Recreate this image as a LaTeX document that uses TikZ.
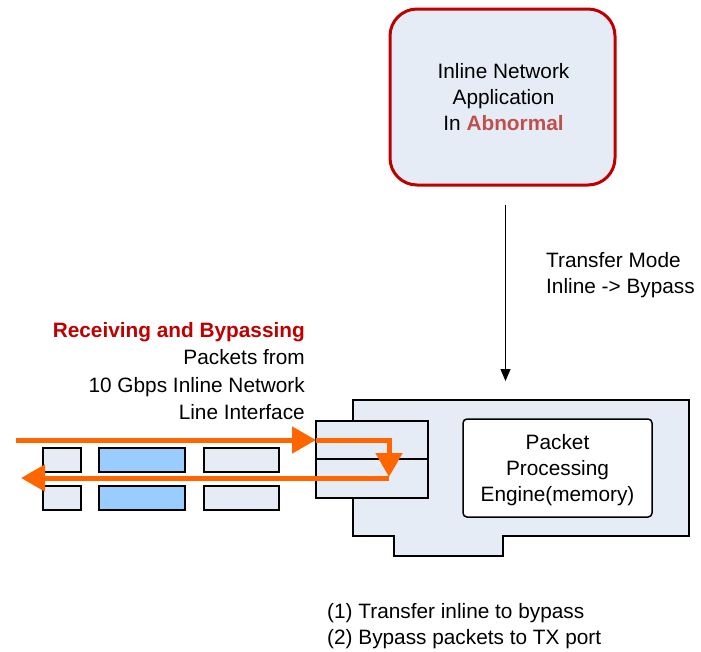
\documentclass[tikz,border=0pt]{standalone}
\usepackage{fontspec}
\setmainfont{Liberation Sans}
\usetikzlibrary{arrows.meta}
\definecolor{boxfill}{HTML}{E6ECF6}
\definecolor{pktblue}{HTML}{99CCFF}
\definecolor{darkred}{HTML}{C00000}
\definecolor{abred}{HTML}{C0504D}
\definecolor{flow}{HTML}{FF6600}
\tikzset{
  txt/.style={inner sep=0pt, font=\fontsize{20.8}{26}\selectfont},
  pkt/.style={draw=black, line width=1.5pt, fill=boxfill},
  pktb/.style={draw=black, line width=1.5pt, fill=pktblue},
  oline/.style={draw=flow, line width=5pt},
  otip/.style={-{Triangle[length=24pt,width=26pt]}},
}
\begin{document}
\begin{tikzpicture}[x=1pt,y=-1pt]
\useasboundingbox (0,0) rectangle (701,651);
% application box
\draw[draw=darkred, line width=3pt, fill=boxfill, rounded corners=27pt] (390,9) rectangle (615,185);
\node[txt, anchor=base] (app1) at (503.5,78) {Inline Network};
\node[txt, anchor=base] (app2) at (503.5,104) {Application};
\node[txt, anchor=base] (app3) at (503.5,130) {In \textbf{\color{abred}Abnormal}};
% transfer mode text
\node[txt, anchor=base west] (tm1) at (546,267) {Transfer Mode};
\node[txt, anchor=base west] (tm2) at (546,293) {Inline -> Bypass};
% vertical arrow
\coordinate (vtop) at (505.5,205);
\coordinate (vbot) at (505.5,381);
\draw[line width=1pt, -{Triangle[length=12pt,width=10pt]}] (vtop) -- (vbot);
% left text
\node[txt, anchor=base east, text=darkred, font=\fontsize{20.8}{26}\selectfont\bfseries] (rx1) at (305,337) {Receiving and Bypassing};
\node[txt, anchor=base east] (rx2) at (305,364) {Packets from};
\node[txt, anchor=base east] (rx3) at (305,392) {10 Gbps Inline Network};
\node[txt, anchor=base east] (rx4) at (305,419) {Line Interface};
% card
\draw[line width=2.5pt, fill=boxfill, line join=miter]
  (353,400) -- (689,400) -- (689,536) -- (503,536) -- (503,556) -- (394,556) -- (394,536) -- (353,536) -- cycle;
% port box
\draw[line width=1.5pt, fill=boxfill] (316,421) rectangle (428,498);
\draw[line width=1.5pt] (316,459) -- (428,459);
% engine
\draw[line width=1.5pt, fill=white, rounded corners=4pt] (463,419) rectangle (652,517);
\node[txt, anchor=base] (en1) at (557.5,449) {Packet};
\node[txt, anchor=base] (en2) at (557.5,475) {Processing};
\node[txt, anchor=base] (en3) at (557.5,501) {Engine(memory)};
% packets
\draw[pkt] (43,448) rectangle (81,472);
\draw[pktb] (99,448) rectangle (185,472);
\draw[pkt] (204,448) rectangle (279,472);
\draw[pkt] (43,486) rectangle (81,510);
\draw[pktb] (99,486) rectangle (185,510);
\draw[pkt] (204,486) rectangle (279,510);
% orange flow
\coordinate (fin) at (16,440);
\coordinate (fport) at (316,440);
\coordinate (fcorner) at (389,440);
\coordinate (fturn) at (389,477);
\coordinate (fstart) at (389,478);
\coordinate (fout) at (21,478);
\draw[oline, otip] (fin) -- (fport);
\draw[oline, otip] (fport) -- (fcorner) -- (fturn);
\draw[oline, otip] (fstart) -- (fout);
% bottom notes
\node[txt, anchor=base west] (n1) at (327,618) {(1) Transfer inline to bypass};
\node[txt, anchor=base west] (n2) at (327,644) {(2) Bypass packets to TX port};
\end{tikzpicture}
\end{document}
